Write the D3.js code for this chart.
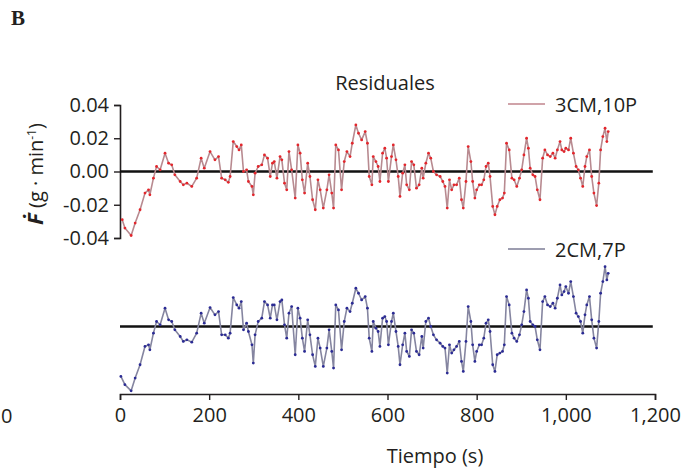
<!DOCTYPE html>
<html>
<head>
<meta charset="utf-8">
<script src="https://cdn.jsdelivr.net/npm/d3@7"></script>
<style>
  body { margin: 0; background: #fff; }
  svg text { font-family: "Open Sans", sans-serif; fill: #231f20; }
</style>
</head>
<body>
<script>
// ---------------------------------------------------------------
// data: [tiempo (s), residual (g/min)]
// ---------------------------------------------------------------
var xTicks = [0, 200, 400, 600, 800, 1000, 1200]
  , yTicks = [-0.04, -0.02, 0, 0.02, 0.04]
  , zeroEnd = 1195
  , names = ["3CM,10P", "2CM,7P"]

var res3cm = [[5,-0.029],[11,-0.034],[25,-0.0385],[34,-0.031],[45,-0.023],[56,-0.013],[64,-0.011],[67,-0.014],
  [75,-0.004],[82,0.003],[90,0.001],[101,0.011],[109,0.005],[116,0.004],[123,-0.002],[135,-0.006],[142,-0.008],
  [150,-0.007],[161,-0.009],[172,-0.004],[182,0.008],[189,0.002],[202,0.012],[213,0.007],[221,0.009],[228,-0.004],
  [236,-0.005],[243,-0.0065],[247,-0.003],[254,0.018],[262,0.015],[267,0.013],[272,0.016],[277,0.000],[284,0.001],
  [288,-0.006],[296,-0.009],[299,-0.014],[303,-0.001],[310,0.003],[318,0.004],[324,0.010],[331,0.008],[337,-0.003],
  [342,0.005],[346,0.006],[352,-0.004],[359,0.009],[363,0.007],[369,-0.007],[374,-0.011],[379,0.012],[385,0.001],
  [393,-0.016],[399,0.016],[404,0.011],[409,-0.005],[414,-0.013],[421,0.005],[426,-0.003],[432,-0.017],[438,-0.023],
  [444,-0.005],[449,-0.011],[456,-0.022],[464,-0.011],[469,-0.002],[475,-0.013],[479,-0.022],[484,0.016],[490,0.013],
  [497,-0.011],[503,0.006],[509,0.012],[516,0.009],[521,0.017],[529,0.028],[535,0.023],[542,0.019],[550,0.024],
  [555,0.017],[559,-0.003],[565,-0.008],[568,0.009],[574,0.006],[579,0.003],[583,-0.006],[589,0.011],[594,0.014],
  [598,0.008],[602,-0.006],[609,0.009],[613,0.016],[619,0.007],[624,-0.003],[628,-0.015],[634,-0.001],[639,0.004],
  [643,-0.008],[649,-0.011],[654,0.006],[659,0.004],[665,-0.010],[671,-0.008],[677,0.002],[680,-0.004],[686,0.005],
  [692,0.011],[697,0.008],[703,0.000],[710,-0.002],[718,-0.003],[724,-0.006],[729,-0.009],[734,-0.022],[739,-0.005],
  [744,-0.011],[749,-0.008],[755,-0.008],[761,-0.004],[766,-0.017],[770,-0.022],[776,-0.006],[781,0.015],[787,0.006],
  [791,-0.006],[796,-0.016],[800,-0.011],[806,-0.008],[811,-0.008],[816,-0.005],[821,0.003],[826,0.005],[830,-0.003],
  [836,-0.021],[841,-0.026],[846,-0.021],[852,-0.017],[858,-0.016],[862,-0.013],[867,0.017],[873,0.013],[879,-0.004],
  [884,-0.005],[890,-0.009],[896,-0.004],[901,0.001],[906,0.010],[912,0.020],[916,0.014],[920,0.002],[926,-0.002],
  [931,-0.003],[936,-0.011],[942,-0.017],[948,0.008],[953,0.013],[959,0.010],[965,0.009],[971,0.011],[976,0.008],
  [981,0.013],[987,0.018],[991,0.013],[996,0.012],[1000,0.014],[1006,0.013],[1011,0.020],[1017,0.011],[1023,0.003],
  [1028,0.001],[1033,-0.004],[1038,-0.009],[1043,0.003],[1047,0.009],[1053,0.013],[1058,-0.003],[1063,-0.013],
  [1069,-0.0205],[1074,-0.007],[1078,0.013],[1083,0.021],[1088,0.026],[1092,0.018],[1095,0.024]]

var res2cm = [[2,-0.030],[11,-0.035],[25,-0.0387],[34,-0.031],[45,-0.023],[56,-0.012],[64,-0.011],[67,-0.014],
  [75,-0.004],[82,0.003],[90,0.001],[101,0.011],[109,0.004],[116,0.003],[123,-0.002],[135,-0.006],[142,-0.009],
  [150,-0.008],[161,-0.0094],[172,-0.004],[182,0.008],[189,0.002],[202,0.0114],[213,0.007],[221,0.009],[228,-0.005],
  [236,-0.005],[243,-0.007],[247,-0.004],[254,0.0174],[262,0.013],[267,0.011],[272,0.015],[277,-0.002],[284,0.002],
  [288,-0.003],[296,-0.011],[299,-0.022],[303,-0.005],[310,0.003],[318,0.005],[324,0.015],[331,0.013],[337,0.005],
  [342,0.013],[346,0.013],[352,0.004],[359,0.015],[363,0.016],[369,0.001],[374,-0.007],[379,0.008],[385,0.012],
  [393,-0.017],[399,0.011],[404,0.005],[409,-0.007],[414,-0.015],[421,0.004],[426,-0.005],[432,-0.017],[438,-0.024],
  [444,-0.007],[449,-0.013],[456,-0.024],[464,-0.013],[469,-0.002],[475,-0.015],[479,-0.025],[484,0.013],[490,0.010],
  [497,-0.014],[503,0.003],[509,0.011],[516,0.009],[521,0.014],[529,0.023],[535,0.020],[542,0.016],[550,0.018],
  [555,0.011],[559,-0.007],[565,-0.015],[568,0.003],[574,-0.001],[579,-0.003],[583,-0.012],[589,0.005],[594,0.006],
  [598,0.003],[602,-0.011],[609,0.003],[613,0.008],[619,-0.003],[624,-0.012],[628,-0.023],[634,-0.011],[639,-0.004],
  [643,-0.015],[649,-0.018],[654,-0.002],[659,-0.004],[665,-0.015],[671,-0.017],[677,-0.006],[680,-0.013],[686,0.003],
  [692,0.005],[697,0.000],[703,-0.005],[710,-0.008],[718,-0.010],[724,-0.012],[729,-0.013],[734,-0.028],[739,-0.011],
  [744,-0.016],[749,-0.014],[755,-0.012],[761,-0.009],[766,-0.021],[770,-0.027],[776,-0.009],[781,0.012],[787,0.003],
  [791,-0.011],[796,-0.021],[800,-0.015],[806,-0.011],[811,-0.011],[816,-0.007],[821,0.002],[826,0.004],[830,-0.003],
  [836,-0.023],[841,-0.027],[846,-0.017],[852,-0.016],[858,-0.015],[862,-0.011],[867,0.018],[873,0.013],[879,-0.004],
  [884,-0.007],[890,-0.009],[896,-0.005],[901,0.001],[906,0.009],[912,0.022],[916,0.017],[920,0.003],[926,0.001],
  [931,0.000],[936,-0.008],[942,-0.014],[948,0.015],[953,0.018],[959,0.013],[965,0.012],[971,0.014],[976,0.011],
  [981,0.017],[987,0.025],[991,0.019],[996,0.021],[1000,0.024],[1006,0.020],[1011,0.027],[1017,0.018],[1023,0.008],
  [1028,0.006],[1033,0.003],[1038,-0.004],[1043,0.007],[1047,0.013],[1053,0.018],[1058,0.004],[1063,-0.007],
  [1069,-0.013],[1074,0.003],[1078,0.020],[1083,0.027],[1088,0.036],[1092,0.028],[1095,0.032]]

// ---------------------------------------------------------------
// svg + scales
// ---------------------------------------------------------------
var svg = d3.select("body").append("svg")
    .attr("width", 698)
    .attr("height", 474)

var x    = d3.scaleLinear().domain([0, 1200]).range([120, 655])
  , yTop = d3.scaleLinear().domain([-0.04, 0.04]).range([238, 105])
  , yBot = d3.scaleLinear().domain([-0.04, 0.04]).range([393, 260])

var fmtX = function (d) { return d3.format(",")(d) }
  , fmtY = function (d) { return d3.format(".2f")(d).replace("\u2212", "-") }

// panel letter + stray label from neighbour panel
svg.append("text").attr("x", 11).attr("y", 25)
   .style("font-family", "'Liberation Serif', serif").style("font-weight", "bold")
   .style("font-size", "21px").text("B")
svg.append("text").attr("x", 1).attr("y", 423).style("font-size", "20px").text("0")

// ---------------------------------------------------------------
// axes
// ---------------------------------------------------------------
var gx = svg.append("g").attr("transform", "translate(0," + 394 + ")")
  .call(d3.axisBottom(x).tickValues(xTicks).tickFormat(fmtX).tickSizeOuter(0).tickSize(6).tickPadding(8))
gx.select(".domain").attr("stroke", "#231f20").attr("stroke-width", 1.6)
gx.selectAll(".tick line").attr("stroke", "#231f20").attr("stroke-width", 1.4)
gx.selectAll(".tick text").style("font-size", "20px").attr("fill", "#231f20").attr("font-family", null)

var gy = svg.append("g").attr("transform", "translate(120,0)")
  .call(d3.axisLeft(yTop).tickValues(yTicks).tickFormat(fmtY).tickSizeOuter(0).tickSize(6).tickPadding(5))
gy.select(".domain").attr("stroke", "#231f20").attr("stroke-width", 1.6)
gy.selectAll(".tick line").attr("stroke", "#231f20").attr("stroke-width", 1.4)
gy.selectAll(".tick text").style("font-size", "20px").attr("fill", "#231f20").attr("font-family", null)

// axis titles
svg.append("text").attr("x", 435).attr("y", 463).attr("text-anchor", "middle")
   .style("font-size", "20px").text("Tiempo (s)")

var ylab = svg.append("text").attr("transform", "translate(43,174) rotate(-90)")
   .attr("text-anchor", "middle").style("font-size", "20px")
ylab.append("tspan").style("font-weight", "bold").style("font-style", "italic").style("font-size", "22px").text("\u1E1E")
ylab.append("tspan").text(" (g \u00B7 min")
ylab.append("tspan").attr("dy", -7).style("font-size", "12px").text("-1")
ylab.append("tspan").attr("dy", 7).text(")")

svg.append("text").attr("x", 385).attr("y", 90).attr("text-anchor", "middle")
   .style("font-size", "20px").text("Residuales")

// ---------------------------------------------------------------
// series
// ---------------------------------------------------------------
function drawSeries (data, y, lineCol, dotCol) {
	svg.append("line")
		.attr("x1", x(0)).attr("x2", x(zeroEnd))
		.attr("y1", y(0)).attr("y2", y(0))
		.attr("stroke", "#111").attr("stroke-width", 2.4)

	var line = d3.line().x(function (d) { return x(d[0]) }).y(function (d) { return y(d[1]) })
	svg.append("path").datum(data)
		.attr("d", line)
		.attr("fill", "none")
		.attr("stroke", lineCol)
		.attr("stroke-width", 1.6)
		.attr("stroke-linejoin", "round")

	svg.append("g").selectAll("circle").data(data).enter().append("circle")
		.attr("cx", function (d) { return x(d[0]) })
		.attr("cy", function (d) { return y(d[1]) })
		.attr("r", 1.4)
		.attr("fill", dotCol)
}

drawSeries(res3cm, yTop, "#b88a90", "#e3262c")
drawSeries(res2cm, yBot, "#8585a0", "#2b2b94")

// legends
function legend (yPos, col, label) {
	svg.append("line").attr("x1", 508).attr("x2", 545).attr("y1", yPos).attr("y2", yPos)
		.attr("stroke", col).attr("stroke-width", 1.6)
	svg.append("text").attr("x", 555).attr("y", yPos + 8).style("font-size", "20px").text(label)
}
legend(104, "#c0848c", names[0])
legend(249, "#7c7c96", names[1])
</script>
</body>
</html>
